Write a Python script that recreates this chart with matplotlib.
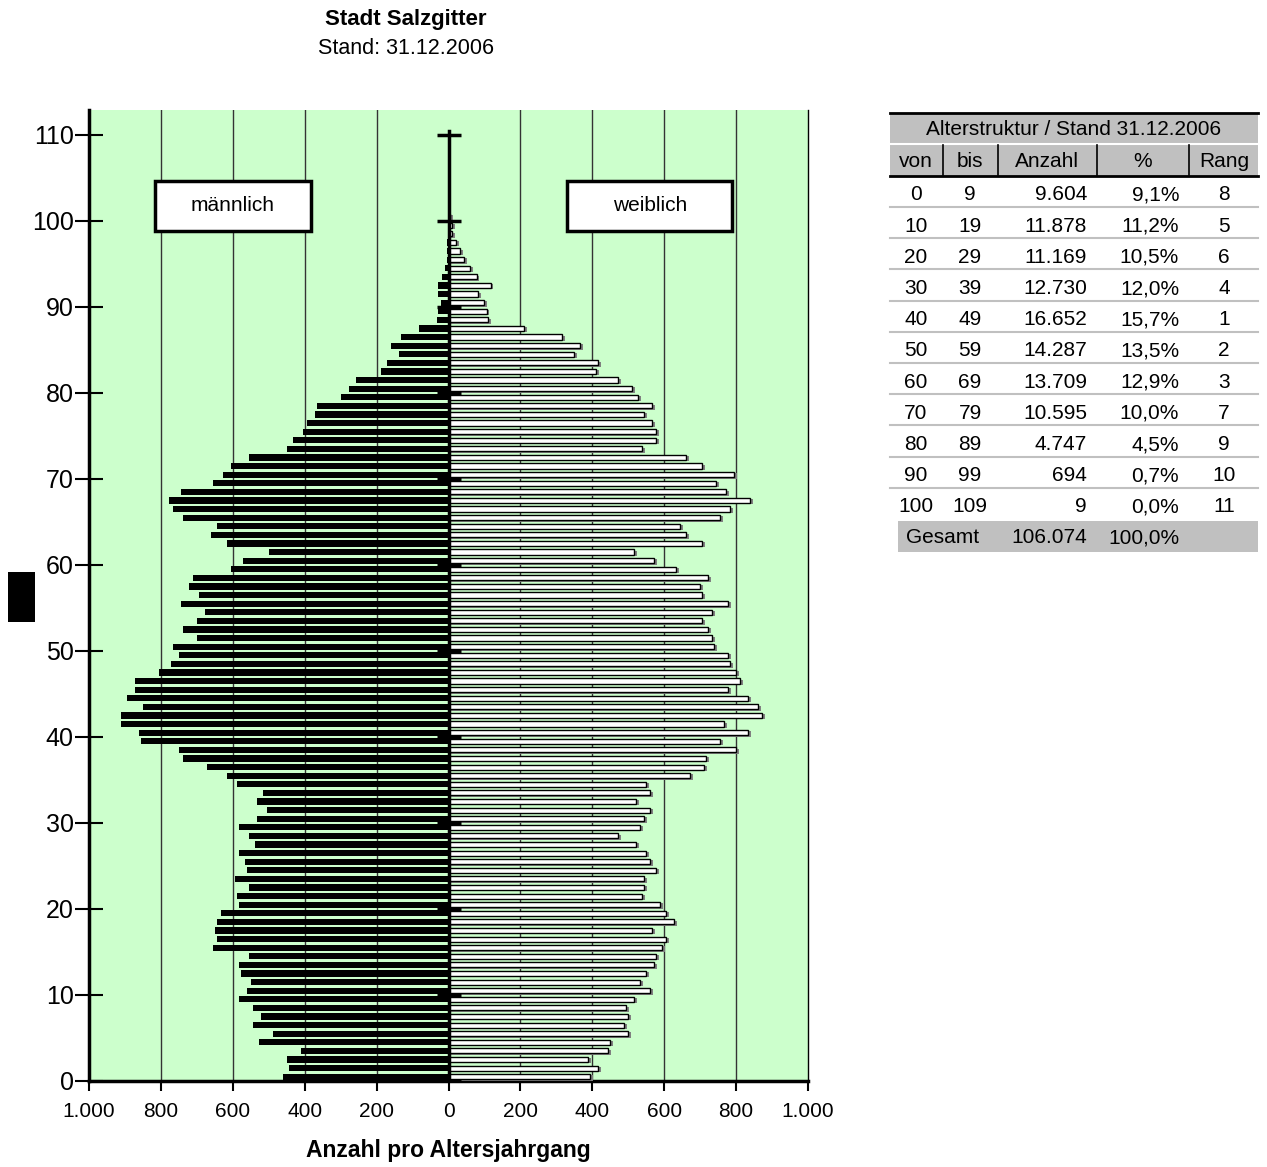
import matplotlib
matplotlib.use("Agg")
import matplotlib.pyplot as plt
from matplotlib.patches import Rectangle

plt.rcParams['font.family'] = ['Liberation Sans', 'DejaVu Sans']

# Einwohner je Altersjahrgang (0..100)
alter = list(range(0, 101))
maennlich = [461, 444, 450, 411, 528, 489, 544, 522, 544, 583,
             561, 550, 578, 583, 556, 656, 644, 650, 644, 633,
             583, 589, 556, 594, 561, 567, 583, 539, 556, 583,
             533, 506, 533, 517, 589, 617, 672, 739, 750, 856,
             861, 911, 911, 850, 894, 872, 872, 806, 772, 750,
             767, 700, 739, 700, 678, 744, 694, 722, 711, 606,
             572, 500, 617, 661, 644, 739, 767, 778, 744, 656,
             628, 606, 556, 450, 433, 406, 394, 372, 367, 300,
             278, 256, 189, 172, 139, 161, 133, 83, 33, 28,
             22, 28, 28, 17, 11, 4, 4, 4, 2, 1,
             1]
weiblich = [394, 417, 389, 444, 450, 500, 489, 500, 494, 517,
            561, 533, 550, 572, 578, 594, 606, 567, 628, 606,
            589, 539, 544, 544, 578, 561, 550, 522, 472, 533,
            544, 561, 522, 561, 550, 672, 711, 717, 800, 756,
            833, 767, 872, 861, 833, 778, 811, 800, 783, 778,
            739, 733, 722, 706, 733, 778, 706, 700, 722, 633,
            572, 517, 706, 661, 644, 756, 783, 839, 772, 744,
            794, 706, 661, 539, 578, 578, 567, 544, 567, 528,
            511, 472, 411, 417, 350, 367, 317, 211, 111, 106,
            100, 83, 117, 78, 61, 44, 33, 22, 11, 11,
            5]

x_ticks = [-1000, -800, -600, -400, -200, 0, 200, 400, 600, 800, 1000]
x_labels = ["1.000", "800", "600", "400", "200", "0", "200", "400", "600", "800", "1.000"]
y_ticks = list(range(0, 111, 10))

# Tabelle
tab_von = [0, 10, 20, 30, 40, 50, 60, 70, 80, 90, 100]
tab_bis = [9, 19, 29, 39, 49, 59, 69, 79, 89, 99, 109]
tab_anzahl = ["9.604", "11.878", "11.169", "12.730", "16.652", "14.287",
              "13.709", "10.595", "4.747", "694", "9"]
tab_proz = ["9,1%", "11,2%", "10,5%", "12,0%", "15,7%", "13,5%",
            "12,9%", "10,0%", "4,5%", "0,7%", "0,0%"]
tab_rang = [8, 5, 6, 4, 1, 2, 3, 7, 9, 10, 11]
gesamt_anzahl = "106.074"
gesamt_proz = "100,0%"

W, H = 1267, 1167
fig = plt.figure(figsize=(W / 100, H / 100), dpi=100)
ax = fig.add_axes([89 / W, 1 - 1081 / H, 719 / W, 971 / H])
ax.set_facecolor('#CCFFCC')

ypos = [a + 0.5 for a in alter]
# Männer: schwarz nach links
ax.barh(ypos, [-m for m in maennlich], height=0.72, color='black', zorder=3)
# Frauen: weiß mit Schatten
ax.barh([y - 0.15 for y in ypos], [w + 8 for w in weiblich], left=0, height=0.6,
        color='#808080', zorder=3)
ax.barh(ypos, weiblich, height=0.6, color='white', edgecolor='black',
        linewidth=1.0, zorder=4)

ax.set_xlim(-1000, 1000)
ax.set_ylim(0, 112.9)

# Gitter
for gx in [-800, -600, -400, -200, 200, 400, 600, 800]:
    ax.axvline(gx, color='#333333', linewidth=1.0, zorder=1)

# Mittelachse mit Markierungen
ax.plot([0, 0], [0, 110.5], color='black', linewidth=2.5, zorder=6)
ax.hlines(y_ticks, -33, 36, color='black', linewidth=2.5, zorder=6)

ax.set_xticks(x_ticks)
ax.set_xticklabels(x_labels, fontsize=15)
ax.set_yticks(y_ticks)
ax.set_yticklabels([str(t) for t in y_ticks], fontsize=18)
ax.tick_params(axis='y', direction='inout', length=20, width=1.5, pad=1)
ax.tick_params(axis='x', direction='out', length=7, width=1.5, pad=8)
ax.spines['top'].set_visible(False)
ax.spines['right'].set_linewidth(1.0)
ax.spines['left'].set_linewidth(2.5)
ax.spines['bottom'].set_linewidth(2.5)
ax.set_xlabel("Anzahl pro Altersjahrgang", fontsize=16.5, fontweight='bold', labelpad=13)

# Beschriftungskästen
ax.add_patch(Rectangle((-817, 98.8), 434, 5.9, facecolor='white', edgecolor='black',
                       linewidth=2.5, zorder=7))
ax.text(-600, 101.75, "männlich", ha='center', va='center', fontsize=15, zorder=8)
ax.add_patch(Rectangle((331, 98.8), 458, 5.9, facecolor='white', edgecolor='black',
                       linewidth=2.5, zorder=7))
ax.text(560, 101.75, "weiblich", ha='center', va='center', fontsize=15, zorder=8)

# Titel
fig.text(406 / W, 1 - 20 / H, "Stadt Salzgitter", ha='center', va='center',
         fontsize=16, fontweight='bold')
fig.text(406 / W, 1 - 48 / H, "Stand: 31.12.2006", ha='center', va='center', fontsize=15.5)

# schwarzes Kästchen links
fig.add_artist(Rectangle((8 / W, 1 - 622 / H), 27 / W, 50 / H, transform=fig.transFigure,
                         facecolor='black', edgecolor='none'))

# Tabelle in Pixelkoordinaten
tax = fig.add_axes([880 / W, 1 - 560 / H, 387 / W, 460 / H])
tax.set_xlim(880, 1267)
tax.set_ylim(560, 100)
tax.axis('off')
grau = '#C0C0C0'
tax.add_patch(Rectangle((890, 113), 368, 63, facecolor=grau, edgecolor='none'))
tax.add_patch(Rectangle((898, 521), 360, 31, facecolor=grau, edgecolor='none'))
tax.plot([890, 1258], [113, 113], color='black', linewidth=2)
tax.plot([890, 1258], [176, 176], color='black', linewidth=2)
tax.plot([890, 1258], [144, 144], color='white', linewidth=1.5)
for sx in [943, 998, 1097, 1189]:
    tax.plot([sx, sx], [145, 175], color='black', linewidth=1.2)
tax.text(1074, 130, "Alterstruktur / Stand 31.12.2006", ha='center', va='center', fontsize=15)
for txt, cx in [("von", 916), ("bis", 970), ("Anzahl", 1047), ("%", 1143), ("Rang", 1224)]:
    tax.text(cx, 162, txt, ha='center', va='center', fontsize=15)
row0, dy = 195, 31.2
for i in range(len(tab_von)):
    ry = row0 + i * dy
    tax.text(916, ry, str(tab_von[i]), ha='center', va='center', fontsize=15)
    tax.text(970, ry, str(tab_bis[i]), ha='center', va='center', fontsize=15)
    tax.text(1087, ry, tab_anzahl[i], ha='right', va='center', fontsize=15)
    tax.text(1179, ry, tab_proz[i], ha='right', va='center', fontsize=15)
    tax.text(1224, ry, str(tab_rang[i]), ha='center', va='center', fontsize=15)
    if i < len(tab_von) - 1:
        tax.plot([890, 1258], [ry + 12, ry + 12], color=grau, linewidth=1.5)
tax.text(943, 538, "Gesamt", ha='center', va='center', fontsize=15)
tax.text(1087, 538, gesamt_anzahl, ha='right', va='center', fontsize=15)
tax.text(1179, 538, gesamt_proz, ha='right', va='center', fontsize=15)

fig.savefig("out.png", dpi=100)
